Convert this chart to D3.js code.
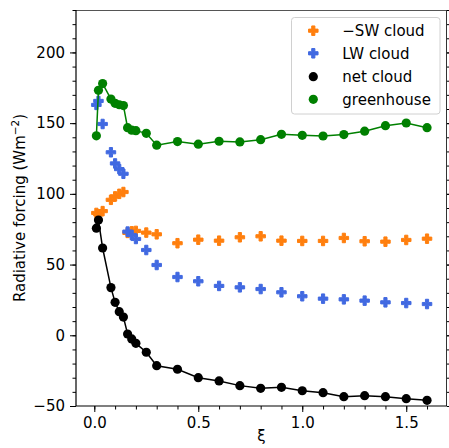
<!DOCTYPE html>
<html>
<head>
<meta charset="utf-8">
<script src="https://cdn.jsdelivr.net/npm/d3@7"></script>
<style>
  html, body { margin: 0; padding: 0; background: #fff; }
  svg { display: block; font-family: "DejaVu Sans", sans-serif; }
</style>
</head>
<body>
<svg id="chart" width="449" height="448"></svg>
<script>
// Cloud and greenhouse radiative forcing against ξ
const xi = [0.01, 0.02, 0.04, 0.08, 0.1, 0.12, 0.14, 0.16, 0.18, 0.2, 0.25, 0.3,
            0.4, 0.5, 0.6, 0.7, 0.8, 0.9, 1.0, 1.1, 1.2, 1.3, 1.4, 1.5, 1.6];
const negSwCloud = [86.5, 85.5, 87.8, 95.8, 98.2, 100.0, 101.3, 72.4, 73.5, 73.8, 72.6, 71.4,
                    65.1, 67.6, 66.9, 69.3, 70.0, 66.9, 66.7, 66.7, 68.8, 66.5, 66.2, 67.4, 68.3];
const lwCloud = [162.9, 165.7, 149.4, 129.4, 121.5, 117.5, 114.2, 73.3, 70.9, 68.1, 60.3, 49.7,
                 41.2, 38.2, 34.9, 33.9, 32.7, 30.4, 27.6, 25.9, 25.4, 24.5, 23.3, 22.8, 22.1];
const netCloud = [75.7, 81.5, 61.7, 33.7, 23.3, 16.7, 12.9, 0.9, -2.6, -5.7, -12.0, -21.5,
                  -24.0, -30.0, -32.3, -35.6, -37.5, -36.8, -39.2, -40.6, -43.4, -42.7, -43.4, -44.8, -46.0];
const greenhouse = [141.0, 173.2, 178.0, 167.0, 164.0, 163.0, 162.4, 146.8, 145.0, 144.7, 142.8, 134.4,
                    137.0, 135.1, 137.2, 136.7, 138.3, 142.1, 141.4, 140.9, 141.9, 144.3, 148.2, 150.1, 146.8];

const xTicks = [0.0, 0.5, 1.0, 1.5];
const yTicks = [-50, 0, 50, 100, 150, 200];
const legendLabels = ["\u2212SW cloud", "LW cloud", "net cloud", "greenhouse"];

const svg = d3.select("#chart");
const pl = 76, pr = 447, pt = 10, pb = 406;

const x = d3.scaleLinear().domain([-0.088, 1.696]).range([pl, pr]);
const y = d3.scaleLinear().domain([-50, 230]).range([pb, pt]);

const fmt1 = d3.format(".1f");
const minus = s => s.replace("-", "\u2212");

// Minor ticks
const xMinor = d3.range(0, 17).map(i => i / 10);
const yMinor = d3.range(-50, 231, 10);

svg.append("g")
  .attr("transform", `translate(0,${pb})`)
  .call(d3.axisBottom(x).tickValues(xMinor).tickSize(3.5).tickFormat(""))
  .call(g => g.select(".domain").remove());
svg.append("g")
  .attr("transform", `translate(${pl},0)`)
  .call(d3.axisLeft(y).tickValues(yMinor).tickSize(3.5).tickFormat(""))
  .call(g => g.select(".domain").remove());
svg.append("g")
  .attr("transform", `translate(${pr},0)`)
  .call(d3.axisRight(y).tickValues(yMinor).tickSize(3.5).tickFormat(""))
  .call(g => g.select(".domain").remove());

// Major ticks with labels
svg.append("g")
  .attr("transform", `translate(0,${pb})`)
  .call(d3.axisBottom(x).tickValues(xTicks).tickSize(6).tickPadding(5).tickFormat(fmt1))
  .call(g => g.select(".domain").remove())
  .call(g => g.selectAll("text").attr("font-size", 15).attr("font-family", "DejaVu Sans").attr("fill", "#000"));
svg.append("g")
  .attr("transform", `translate(${pl},0)`)
  .call(d3.axisLeft(y).tickValues(yTicks).tickSize(6).tickPadding(5).tickFormat(d => minus(String(d))))
  .call(g => g.select(".domain").remove())
  .call(g => g.selectAll("text").attr("font-size", 15).attr("font-family", "DejaVu Sans").attr("fill", "#000"));
svg.append("g")
  .attr("transform", `translate(${pr},0)`)
  .call(d3.axisRight(y).tickValues(yTicks).tickSize(6).tickFormat(""))
  .call(g => g.select(".domain").remove());

// Spines
svg.append("line").attr("x1", pl).attr("x2", pr).attr("y1", pt + 0.5).attr("y2", pt + 0.5)
  .attr("stroke", "#555").attr("stroke-width", 1);
svg.append("line").attr("x1", pr - 0.5).attr("x2", pr - 0.5).attr("y1", pt).attr("y2", pb)
  .attr("stroke", "#333").attr("stroke-width", 1);
svg.append("line").attr("x1", pl).attr("x2", pl).attr("y1", pt).attr("y2", pb)
  .attr("stroke", "#000").attr("stroke-width", 1.2);
svg.append("line").attr("x1", pl).attr("x2", pr).attr("y1", pb).attr("y2", pb)
  .attr("stroke", "#000").attr("stroke-width", 1.2);

// Axis titles
svg.append("text")
  .attr("x", (pl + pr) / 2).attr("y", 441)
  .attr("text-anchor", "middle").attr("font-size", 15).text("\u03BE");

const yl = svg.append("text")
  .attr("transform", `translate(25,${(pt + pb) / 2}) rotate(-90)`)
  .attr("text-anchor", "middle").attr("font-size", 15);
yl.append("tspan").text("Radiative forcing (Wm");
yl.append("tspan").attr("font-size", 10.5).attr("dy", -6).text("\u22122");
yl.append("tspan").attr("dy", 6).text(")");

// Marker shapes
const plusPath = s => {
  const a = s / 6, b = s / 2;
  return `M${-a},${-b}H${a}V${-a}H${b}V${a}H${a}V${b}H${-a}V${a}H${-b}V${-a}H${-a}Z`;
};

const series = [
  { values: negSwCloud, color: "#ff7f0e", shape: "plus", line: false },
  { values: lwCloud, color: "#4169e1", shape: "plus", line: false },
  { values: netCloud, color: "#000000", shape: "circle", line: true },
  { values: greenhouse, color: "#008000", shape: "circle", line: true }
];

const lineGen = d3.line().x(d => x(d[0])).y(d => y(d[1]));

series.forEach(s => {
  const pts = xi.map((v, i) => [v, s.values[i]]);
  const g = svg.append("g");
  if (s.line) {
    g.append("path").datum(pts).attr("d", lineGen)
      .attr("fill", "none").attr("stroke", s.color).attr("stroke-width", 1.5);
  }
  if (s.shape === "circle") {
    g.selectAll("circle").data(pts).join("circle")
      .attr("cx", d => x(d[0])).attr("cy", d => y(d[1])).attr("r", 4.6)
      .attr("fill", s.color);
  } else {
    g.selectAll("path.m").data(pts).join("path").attr("class", "m")
      .attr("transform", d => `translate(${x(d[0])},${y(d[1])})`)
      .attr("d", plusPath(9.5))
      .attr("fill", s.color).attr("stroke", s.color).attr("stroke-width", 1).attr("stroke-linejoin", "miter");
  }
});

// Legend
const lg = svg.append("g");
lg.append("rect").attr("x", 291.5).attr("y", 17.5).attr("width", 148.5).attr("height", 96.5)
  .attr("rx", 3).attr("fill", "#fff").attr("fill-opacity", 0.8)
  .attr("stroke", "#d0d0d0").attr("stroke-width", 1);
const rowY = [30.7, 53.3, 76.7, 99.3];
series.forEach((s, i) => {
  const cx = 313.3, cy = rowY[i];
  if (s.shape === "circle") {
    lg.append("circle").attr("cx", cx).attr("cy", cy).attr("r", 4.6).attr("fill", s.color);
  } else {
    lg.append("path").attr("transform", `translate(${cx},${cy})`).attr("d", plusPath(9.5))
      .attr("fill", s.color).attr("stroke", s.color).attr("stroke-width", 1);
  }
  lg.append("text").attr("x", 342.3).attr("y", cy + 5.5).attr("font-size", 15).text(legendLabels[i]);
});
</script>
</body>
</html>
